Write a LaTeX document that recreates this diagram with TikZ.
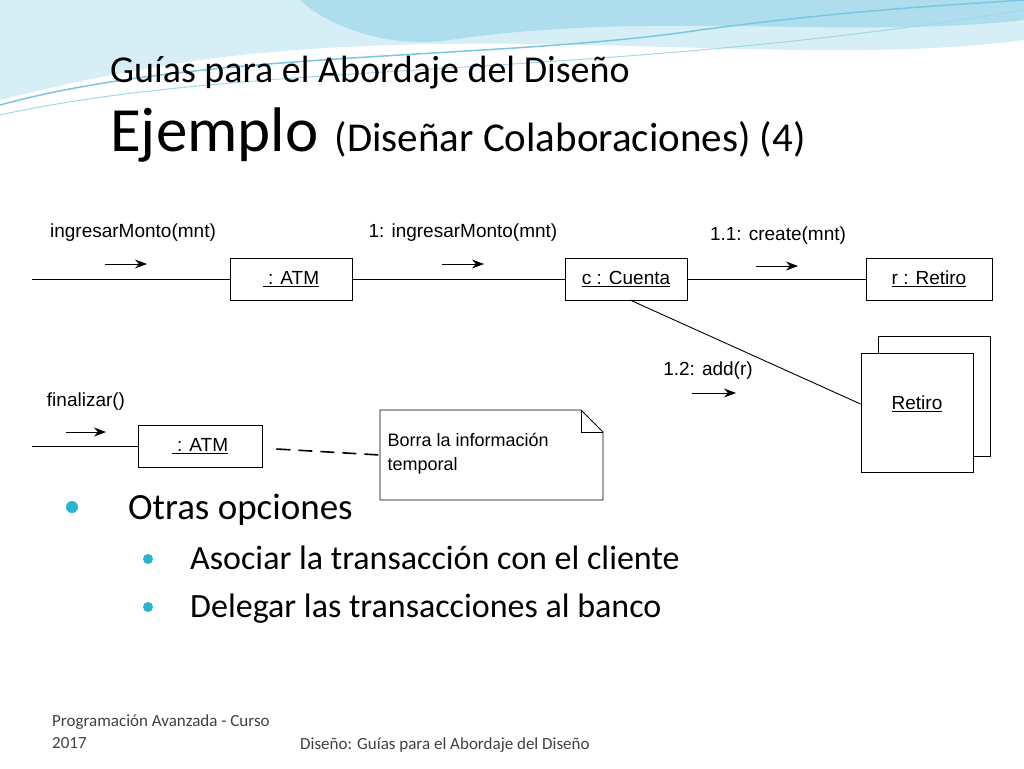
\documentclass[tikz,border=0pt]{standalone}
\usepackage{fontspec}
\setmainfont{Carlito}
\newfontfamily\arial{Liberation Sans}
\usetikzlibrary{positioning,shapes.misc,arrows.meta}
\definecolor{wave}{RGB}{120,200,225}
\definecolor{bul}{RGB}{40,180,210}

\begin{document}
\begin{tikzpicture}[x=1pt,y=-1pt,
        obj/.style={draw, line width=0.9pt, fill=white, minimum width=122pt, minimum height=42pt, font=\arial\fontsize{19}{22}\selectfont},
        msg/.style={font=\arial\fontsize{19}{22}\selectfont},
        marrow/.style={-{Stealth[length=12pt,width=9pt]}, line width=1pt},
        link/.style={line width=0.9pt}
    ]
    \useasboundingbox (0,0) rectangle (1024,768);

    % waves at the top
    \fill[wave!30] (0,0) -- (1024,0) -- (1024,40) .. controls (800,70) and (500,20) .. (200,60) .. controls (100,75) and (40,90) .. (0,100) -- cycle;
    \fill[wave!60] (300,0) -- (1024,0) -- (1024,20) .. controls (850,40) and (650,10) .. (450,40) .. controls (380,50) and (320,20) .. (300,0) -- cycle;
    \draw[wave, line width=1.5pt] (0,105) .. controls (200,50) and (500,60) .. (700,30) .. controls (850,10) and (950,5) .. (1024,0);
    \draw[wave!70, line width=1pt] (0,115) .. controls (250,60) and (600,80) .. (1024,10);

    % title
    \node[anchor=base west, inner sep=0pt, font=\fontsize{38}{44}\selectfont] (t1) at (110,82) {Guías para el Abordaje del Diseño};
    \node[anchor=base west, font=\fontsize{63}{70}\selectfont, inner sep=0pt] (t2) at (110,151) {Ejemplo};
    \node[font=\fontsize{41}{46}\selectfont, inner sep=0pt, right=16pt of t2.base east, anchor=base west] (t3) {(Diseñar Colaboraciones) (4)};

    % first collaboration
    \coordinate (in1) at (32,279);
    \node[obj] (atm) at (291,279) {\underline{\ : ATM}};
    \node[obj] (cta) at (626,279) {\underline{c : Cuenta}};
    \node[obj, minimum width=126pt] (ret) at (929,279) {\underline{r : Retiro}};
    \draw[link] (in1) -- (atm) -- (cta) -- (ret);

    \node[msg] (m1) at (133,233) {ingresarMonto(mnt)};
    \draw[marrow] (105,264) -- (147,264);
    \node[msg] (m2) at (463,233) {1: ingresarMonto(mnt)};
    \draw[marrow] (442,264) -- (484,264);
    \node[msg] (m3) at (778,236) {1.1: create(mnt)};
    \draw[marrow] (756,266) -- (798,266);

    % multiobject
    \node[obj, minimum width=112pt, minimum height=120pt] (rets) at (934,396) {};
    \node[obj, minimum width=112pt, minimum height=119pt] (retf) at (917,413) {};
    \node[msg] at (917,404) {\underline{Retiro}};
    \draw[link] (630,300) -- (retf.west |- 0,404);
    \node[msg] (m4) at (708,371) {1.2: add(r)};
    \draw[marrow] (692,393) -- (736,393);

    % second collaboration
    \coordinate (in2) at (32,446);
    \node[obj, minimum width=124pt] (atm2) at (200,446) {\underline{\ : ATM}};
    \draw[link] (in2) -- (atm2);
    \node[msg] (m5) at (86,402) {finalizar()};
    \draw[marrow] (66,432) -- (106,432);

    % note
    \draw[line width=0.9pt, fill=white] (380,410) -- (581,410) -- (603,432) -- (603,500) -- (380,500) -- cycle;
    \draw[line width=0.9pt] (581,410) -- (581,432) -- (603,432);
    \node[msg, anchor=north west, align=left, font=\arial\fontsize{18}{24}\selectfont] (note) at (384,430) {Borra la información\\temporal};
    \draw[line width=1.6pt, dash pattern=on 14pt off 8pt] (atm2.east) ++(14,3) -- (380,455);

    % bullets
    \fill[bul] (72,507) circle (6);
    \node[anchor=base west, inner sep=0pt, font=\fontsize{37}{42}\selectfont] (b1) at (128,519) {Otras opciones};
    \fill[bul] (148,559) circle (5);
    \node[anchor=base west, inner sep=0pt, font=\fontsize{34}{38}\selectfont] (b2) at (190,569) {Asociar la transacción con el cliente};
    \fill[bul] (148,607) circle (5);
    \node[anchor=base west, inner sep=0pt, font=\fontsize{34}{38}\selectfont] (b3) at (190,617) {Delegar las transacciones al banco};

    % footer
    \node[anchor=north west, align=left, inner sep=0pt, font=\fontsize{17}{22}\selectfont, text=black!75] (f1) at (52,714) {Programación Avanzada - Curso\\2017};
    \node[anchor=base west, inner sep=0pt, font=\fontsize{17}{20}\selectfont, text=black!75] (f2) at (300,749) {Diseño: Guías para el Abordaje del Diseño};
\end{tikzpicture}
\end{document}
